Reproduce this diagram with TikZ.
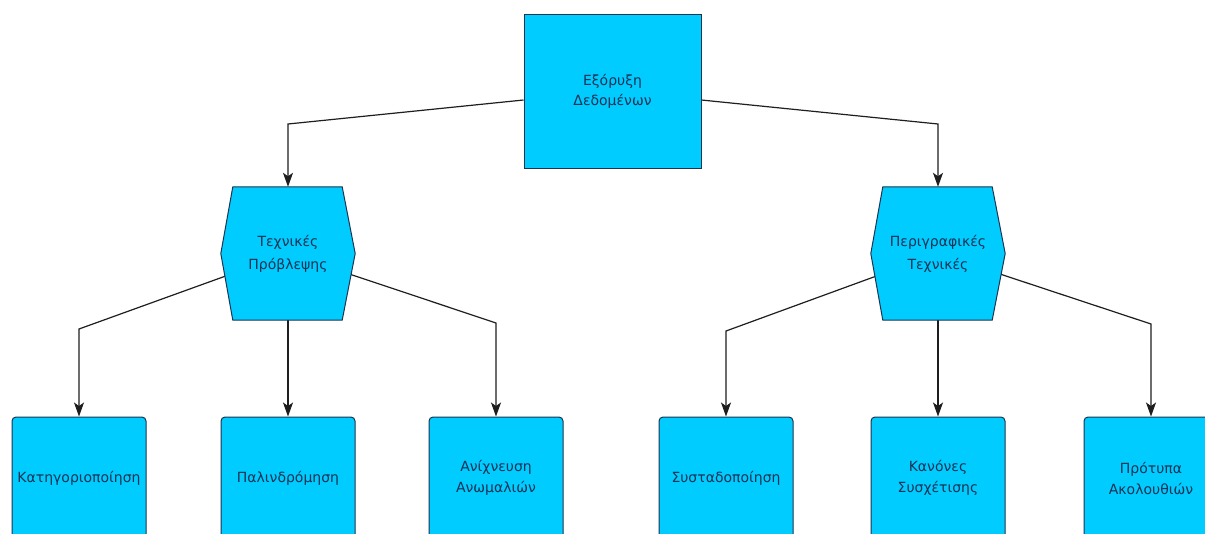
\documentclass[tikz,border=0pt]{standalone}
\usepackage{fontspec}
\setmainfont{DejaVu Sans}
\usetikzlibrary{calc,arrows.meta}
\pgfdeclarelayer{bg}
\pgfdeclarelayer{lines}
\pgfdeclarelayer{shapes}
\pgfsetlayers{bg,lines,shapes,main}
\definecolor{boxfill}{RGB}{0,204,255}
\definecolor{boxline}{RGB}{28,52,80}
\definecolor{txt}{RGB}{22,50,84}
\definecolor{conn}{RGB}{30,30,30}
\tikzset{
  lbl/.style={align=center,text=txt,font=\fontsize{14}{21}\selectfont},
  topbox/.style={lbl,draw=boxline,fill=boxfill,line width=1pt,minimum width=177pt,minimum height=154pt,inner sep=0pt},
  leafbox/.style={lbl,draw=boxline,fill=boxfill,line width=1pt,rounded corners=4pt,minimum width=134pt,minimum height=122pt,inner sep=0pt},
  hexnode/.style={lbl,minimum width=134pt,minimum height=133pt,inner sep=0pt},
  hexshape/.style={draw=boxline,fill=boxfill,line width=1pt,line join=miter},
  link/.style={draw=conn,line width=1.2pt},
  arrowlink/.style={link,-{Stealth[length=14pt,width=10pt,inset=3.5pt]}}
}
\newcommand{\hexdraw}[1]{%
  \begin{pgfonlayer}{shapes}
  \path[hexshape] (#1.west) -- ($(#1.north west)+(12,0)$) -- ($(#1.north east)+(-13,0)$) -- (#1.east) -- ($(#1.south east)+(-13,0)$) -- ($(#1.south west)+(12,0)$) -- cycle;
  \end{pgfonlayer}}
\begin{document}
\begin{tikzpicture}[x=1pt,y=-1pt]
\useasboundingbox (0,0) rectangle (1205,533);
\clip (0,0) rectangle (1205,533);
\begin{pgfonlayer}{bg}
\fill[white] (0,0) rectangle (1205,533);
\end{pgfonlayer}

\node[topbox,font=\fontsize{14}{20}\selectfont] (top) at (612.5,91) {Εξόρυξη\\Δεδομένων};

\node[hexnode,font=\fontsize{14}{23}\selectfont] (h1) at (288,253.5) {Τεχνικές\\Πρόβλεψης};
\node[hexnode,font=\fontsize{14}{23}\selectfont] (h2) at (938,253.5) {Περιγραφικές\\Τεχνικές};
\hexdraw{h1}
\hexdraw{h2}

\node[leafbox] (b1) at (79,478) {Κατηγοριοποίηση};
\node[leafbox] (b2) at (288,478) {Παλινδρόμηση};
\node[leafbox] (b3) at (496,478) {Ανίχνευση\\Ανωμαλιών};
\node[leafbox] (b4) at (726,478) {Συσταδοποίηση};
\node[leafbox] (b5) at (938,478) {Κανόνες\\Συσχέτισης};
\node[leafbox] (b6) at (1151,478) {Πρότυπα\\Ακολουθιών};

\coordinate (tl) at (288,124);
\coordinate (tr) at (938,124);
\coordinate (l1) at (79,329);
\coordinate (l3) at (496,323);
\coordinate (r1) at (726,331);
\coordinate (r3) at (1151,324);

\begin{pgfonlayer}{lines}
\draw[arrowlink] (top) -- (tl) -- (h1);
\draw[arrowlink] (top) -- (tr) -- (h2);
\draw[arrowlink] (h1.center) -- (l1) -- (b1);
\draw[arrowlink] (h1.center) -- (b2);
\draw[arrowlink] (h1.center) -- (l3) -- (b3);
\draw[arrowlink] (h2.center) -- (r1) -- (b4);
\draw[arrowlink] (h2.center) -- (b5);
\draw[arrowlink] (h2.center) -- (r3) -- (b6);
\end{pgfonlayer}
\end{tikzpicture}
\end{document}
